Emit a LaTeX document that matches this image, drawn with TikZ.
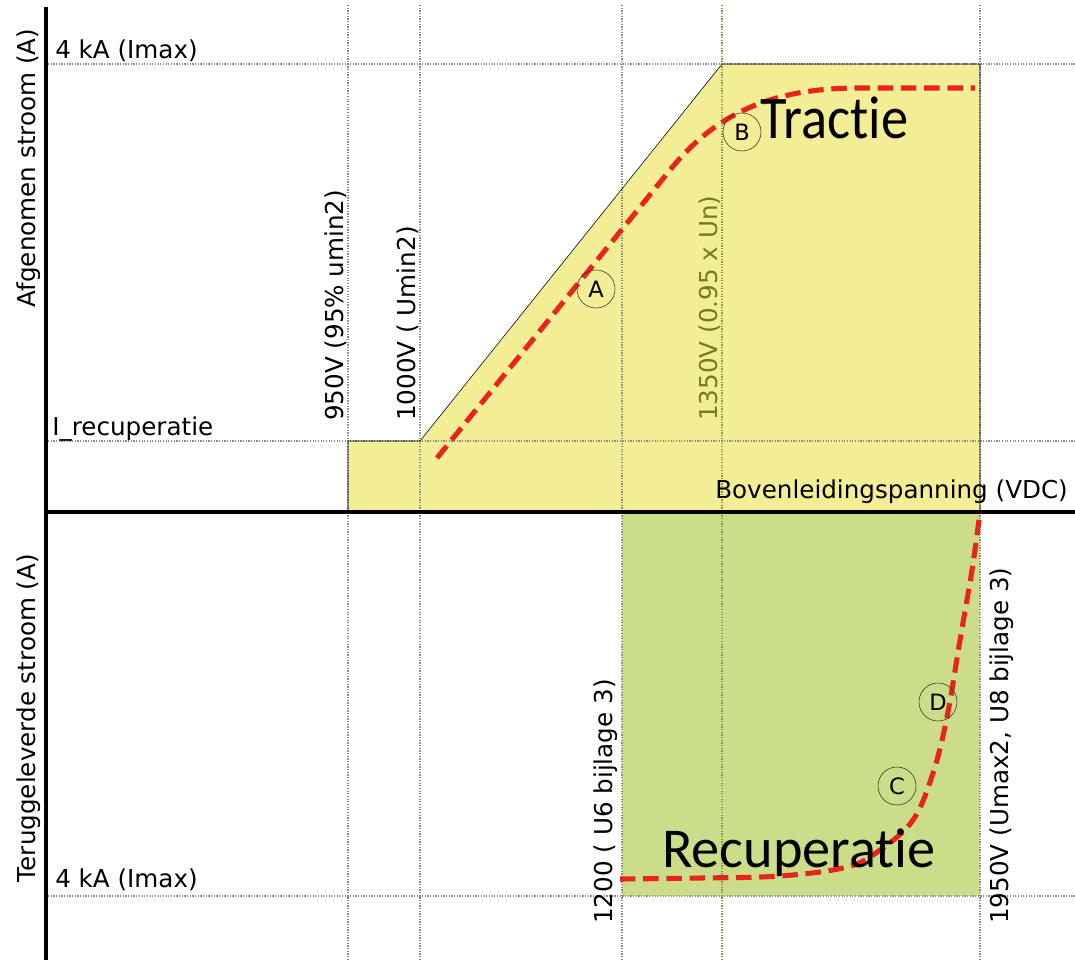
\documentclass[tikz,border=0pt]{standalone}
\usepackage{fontspec}
\setmainfont{DejaVu Sans}
\newfontfamily\bigfont[Ligatures=NoCommon]{Carlito}
\newfontfamily\tractfont[Ligatures=NoCommon,FakeStretch=0.9]{Carlito}
\definecolor{tracfill}{RGB}{243,237,150}
\definecolor{recfill}{RGB}{203,221,137}
\definecolor{curvered}{RGB}{232,36,28}
\definecolor{gridgrey}{RGB}{140,140,140}
\definecolor{olivetext}{RGB}{112,124,38}
\def\yImax{64}
\def\yIrec{441}
\def\yaxis{512}
\def\yImin{896}
\tikzset{x=0.025cm,y=-0.025cm,
    lbl/.style={font=\fontsize{17.5}{20}\selectfont,inner sep=0pt},
    vlbl/.style={lbl,rotate=90,anchor=south west},
    big/.style={inner sep=0pt,anchor=base west},
    letter/.style={circle,draw=black!80!olive,thin,inner sep=0pt,minimum size=0.95cm,
      font=\fontsize{16}{18}\selectfont},
    grid line/.style={gridgrey,densely dotted,line width=0.9pt},
    axis/.style={line width=2.4pt,black},
    curve/.style={curvered,line width=3.6pt,dash pattern=on 11pt off 5.5pt}}
\begin{document}
\begin{tikzpicture}
    \useasboundingbox (0,0) rectangle (1075,960);
    % fills
    \fill[tracfill] (348,\yIrec) -- (420,\yIrec) -- (722,\yImax) -- (980,\yImax)
      -- (980,\yaxis) -- (348,\yaxis) -- cycle;
    \fill[recfill] (622,\yaxis) rectangle (980,\yImin);
    % grid
    \foreach \y in {\yImax,\yIrec,\yImin}
      \draw[grid line] (48,\y) -- (1075,\y);
    \foreach \x in {348,420,622,980}
      \draw[grid line] (\x,5) -- (\x,960);
    \draw[grid line,olivetext!80] (722,5) -- (722,960);
    \draw[thin] (348,\yaxis) -- (348,\yIrec) -- (420,\yIrec) -- (722,\yImax)
      -- (980,\yImax) -- (980,\yaxis);
    % axes
    \draw[axis] (46,7) -- (46,960);
    \draw[axis] (46,\yaxis) -- (1075,\yaxis);
    % curves
    \draw[curve] (437,458) -- (670,170) .. controls (720,108) and (780,88) .. (860,88) -- (975,88);
    \draw[curve] plot[smooth,tension=0.6] coordinates {(620,879) (700,878) (780,876) (847,867)
      (880,850) (913,820) (933,773) (947,717) (960,640) (972,570) (980,512)};
    % labels
    \node[lbl,anchor=base west] (imaxtop) at (55,58) {4 kA (Imax)};
    \node[lbl,anchor=base west] (irec) at (52,435) {I\_recuperatie};
    \node[lbl,anchor=base west] (imaxbot) at (55,887) {4 kA (Imax)};
    \node[lbl,anchor=base west] (vdc) at (715,498) {Bovenleidingspanning (VDC)};
    \node[lbl,rotate=90,anchor=base] (afgen) at (35,168) {Afgenomen stroom (A)};
    \node[lbl,rotate=90,anchor=base] (terug) at (35,718) {Teruggeleverde stroom (A)};
    \node[vlbl] (u950) at (347,421) {950V (95\% umin2)};
    \node[vlbl] (u1000) at (419,421) {1000V ( Umin2)};
    \node[vlbl,olivetext] (u1350) at (721,421) {1350V (0.95 x Un)};
    \node[vlbl] (u1200) at (618,924) {1200 ( U6 bijlage 3)};
    \node[vlbl,anchor=north west] (u1950) at (990,924) {1950V (Umax2, U8 bijlage 3)};
    \node[big,font=\tractfont\fontsize{43}{48}\selectfont] (tractie) at (760,138) {Tractie};
    \node[big,font=\bigfont\fontsize{40}{45}\selectfont] (recup) at (662,867) {Recuperatie};
    % points
    \node[letter] (pA) at (596,289) {A};
    \node[letter] (pB) at (742,132) {B};
    \node[letter] (pC) at (897,786) {C};
    \node[letter] (pD) at (938,702) {D};
\end{tikzpicture}
\end{document}
